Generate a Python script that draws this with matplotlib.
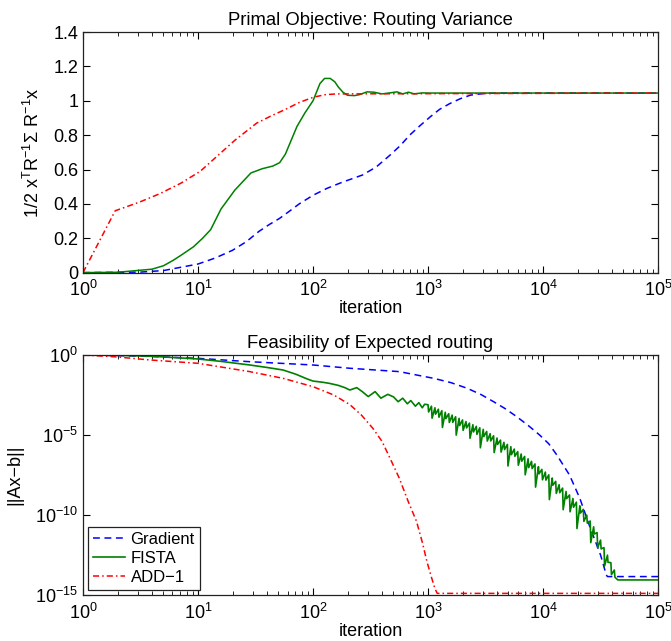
import numpy as np
import matplotlib
matplotlib.use("Agg")
import matplotlib.pyplot as plt
from matplotlib.ticker import LogLocator, NullFormatter, NullLocator, FixedLocator

plt.rcParams['font.family'] = ['Liberation Sans', 'DejaVu Sans']
plt.rcParams['mathtext.fontset'] = 'custom'
plt.rcParams['mathtext.rm'] = 'Liberation Sans'
plt.rcParams['mathtext.it'] = 'Liberation Sans:italic'
plt.rcParams['mathtext.bf'] = 'Liberation Sans:bold'
plt.rcParams['font.size'] = 13

# ---------------- Data (x given as log10(iteration)) ----------------
# Top: primal objective
grad_obj_lx = [0, 0.5, 0.7, 1.0, 1.15, 1.3, 1.42, 1.53, 1.62, 1.71, 1.8, 1.88, 2.0, 2.12,
               2.25, 2.43, 2.55, 2.67, 2.76, 2.84, 2.93, 3.02, 3.1, 3.19, 3.28, 3.37, 3.48, 3.6, 5.0]
grad_obj = [0, 0.003, 0.012, 0.05, 0.085, 0.13, 0.18, 0.24, 0.28, 0.316, 0.36, 0.40, 0.45, 0.49,
            0.525, 0.568, 0.615, 0.684, 0.74, 0.80, 0.855, 0.907, 0.95, 0.984, 1.012, 1.033, 1.042, 1.045, 1.045]

fista_obj_lx = [0, 0.3, 0.6, 0.7, 0.78, 0.85, 0.96, 1.04, 1.11, 1.2, 1.32, 1.46, 1.56, 1.65, 1.71,
                1.76, 1.86, 1.93, 2.0, 2.06, 2.1, 2.15, 2.19, 2.22, 2.26, 2.3, 2.36, 2.4, 2.47,
                2.53, 2.6, 2.68, 2.73, 2.78, 2.83, 2.88, 2.95, 3.0, 5.0]
fista_obj = [0, 0.002, 0.02, 0.04, 0.07, 0.1, 0.15, 0.2, 0.25, 0.37, 0.48, 0.58, 0.605, 0.62, 0.64,
             0.69, 0.85, 0.93, 1.0, 1.1, 1.13, 1.13, 1.11, 1.08, 1.05, 1.032, 1.03, 1.035, 1.052,
             1.05, 1.04, 1.047, 1.052, 1.04, 1.05, 1.04, 1.046, 1.045, 1.045]

add_obj_lx = [0, 0.28, 0.49, 0.67, 0.85, 1.02, 1.17, 1.32, 1.51, 1.63, 1.76, 1.88, 2.0, 2.1, 2.2, 5.0]
add_obj = [0, 0.36, 0.41, 0.46, 0.52, 0.59, 0.68, 0.77, 0.87, 0.91, 0.95, 0.99, 1.02, 1.035, 1.04, 1.045]

# Bottom: feasibility residual (log10 ||Ax-b||)
grad_res_lx = [0, 0.5, 1.0, 1.45, 2.0, 2.32, 2.75, 3.05, 3.2, 3.34, 3.46, 3.57, 3.67, 3.77,
               3.87, 3.97, 4.05, 4.12, 4.23, 4.32, 4.41, 4.5, 4.55, 4.56, 5.0]
grad_res_log = [0, -0.07, -0.21, -0.42, -0.625, -0.83, -1.04, -1.46, -1.73, -2.08, -2.47, -2.92,
                -3.35, -3.85, -4.4, -5.0, -5.55, -6.25, -7.5, -8.96, -10.8, -12.5, -13.75, -13.85, -13.85]

fista_res_lx = [0, 0.3, 0.6, 1.0, 1.2, 1.45, 1.6, 1.74, 1.85, 1.95, 2.0, 2.08, 2.14, 2.22, 2.28,
                2.32, 2.38, 2.43, 2.48, 2.54, 2.59, 2.65, 2.70, 2.74, 2.78, 2.82, 2.85, 2.89,
                2.92, 2.95, 2.97,
                3.00, 3.005, 3.03, 3.035, 3.06, 3.065, 3.09, 3.095, 3.12, 3.125, 3.15, 3.155,
                3.18, 3.185, 3.21, 3.215, 3.24, 3.245, 3.27, 3.275, 3.30, 3.305, 3.33, 3.335,
                3.36, 3.365, 3.39, 3.395, 3.42, 3.425, 3.45, 3.455, 3.48, 3.485, 3.51, 3.515,
                3.54, 3.545, 3.57, 3.575, 3.60, 3.605, 3.63, 3.635, 3.66, 3.665, 3.69, 3.695,
                3.72, 3.725, 3.75, 3.755, 3.78, 3.785, 3.81, 3.815, 3.84, 3.845, 3.87, 3.875,
                3.90, 3.905, 3.93, 3.935, 3.96, 3.965, 3.99, 3.995, 4.02, 4.025, 4.05, 4.055,
                4.08, 4.085, 4.11, 4.115, 4.14, 4.145, 4.17, 4.175, 4.20, 4.205, 4.23, 4.235,
                4.26, 4.265, 4.29, 4.295, 4.32, 4.325, 4.35, 4.355, 4.38, 4.385, 4.41, 4.415,
                4.44, 4.445, 4.47, 4.475, 4.50, 4.505, 4.53, 4.535, 4.56, 4.565, 4.59, 4.595,
                4.62, 4.625, 4.65, 5.0]
fista_res_log = [0, -0.02, -0.08, -0.25, -0.4, -0.625, -0.78, -0.94, -1.2, -1.5, -1.63, -1.7,
                 -1.77, -1.9, -2.05, -2.19, -2.04, -2.3, -2.6, -2.29, -2.7, -2.46, -2.62, -2.92,
                 -2.7, -3.05, -2.85, -3.2, -2.98, -3.3, -3.08,
                 -3.11, -3.56, -3.20, -3.95, -3.30, -3.70, -3.39, -3.89, -3.48, -4.53, -3.58, -3.98,
                 -3.67, -4.22, -3.76, -4.21, -3.86, -5.01, -3.96, -4.41, -4.06, -4.71, -4.16, -4.56,
                 -4.26, -5.21, -4.36, -4.81, -4.46, -4.96, -4.55, -5.80, -4.65, -5.10, -4.78, -5.38,
                 -4.92, -5.37, -5.05, -6.10, -5.19, -5.59, -5.32, -6.07, -5.46, -5.91, -5.59, -6.94,
                 -5.73, -6.23, -5.88, -6.33, -6.04, -6.89, -6.19, -6.64, -6.34, -7.49, -6.49, -7.04,
                 -6.65, -7.10, -6.81, -8.26, -6.98, -7.43, -7.15, -7.80, -7.32, -7.82, -7.49, -9.04,
                 -7.69, -8.14, -7.90, -8.65, -8.11, -8.61, -8.32, -9.67, -8.53, -8.98, -8.75, -9.80,
                 -8.97, -9.52, -9.20, -10.85, -9.43, -9.88, -9.65, -10.40, -10.01, -10.51, -10.38, -11.73,
                 -10.74, -11.19, -11.10, -12.05, -11.57, -12.12, -12.04, -13.19, -12.51, -12.96, -12.98, -13.73,
                 -13.44, -13.89, -14.06, -14.06]

add_res_lx = [0, 0.29, 0.58, 1.0, 1.45, 1.74, 2.0, 2.18, 2.32, 2.42, 2.52, 2.6, 2.67, 2.75,
              2.83, 2.9, 2.95, 2.99, 3.03, 3.06, 3.08, 5.0]
add_res_log = [0, -0.12, -0.31, -0.52, -1.04, -1.46, -1.98, -2.5, -3.1, -3.75, -4.58, -5.4,
               -6.46, -7.7, -9.2, -10.4, -11.7, -12.9, -13.9, -14.6, -14.9, -14.9]

labels = ['Gradient', 'FISTA', 'ADD\u22121']
colors = ['#0000ff', '#008000', '#ff0000']
dash_patterns = [(4.5, 3.0), None, (4.0, 2.0, 1.0, 2.0)]
widths = [1.1, 1.2, 1.1]


def it(lx):
    return np.power(10.0, np.asarray(lx, dtype=float))


def styled_plot(ax, x, y, c, dp, lw, lab):
    if dp is None:
        ax.plot(x, y, color=c, ls='-', lw=lw, label=lab)
    else:
        ax.plot(x, y, color=c, ls=(0, dp), lw=lw, label=lab)


fig = plt.figure(figsize=(6.71, 6.41), dpi=100)
ax1 = fig.add_axes([0.1237, 0.5747, 0.857, 0.3753])
ax2 = fig.add_axes([0.1237, 0.0718, 0.857, 0.3744])

top_series = [(grad_obj_lx, grad_obj), (fista_obj_lx, fista_obj), (add_obj_lx, add_obj)]
for (lx, y), c, dp, lw, lab in zip(top_series, colors, dash_patterns, widths, labels):
    styled_plot(ax1, it(lx), y, c, dp, 1.1, lab)

bot_series = [(grad_res_lx, grad_res_log), (fista_res_lx, fista_res_log), (add_res_lx, add_res_log)]
for (lx, ly), c, dp, lw, lab in zip(bot_series, colors, dash_patterns, widths, labels):
    styled_plot(ax2, it(lx), np.power(10.0, np.asarray(ly)), c, dp, lw, lab)

for ax in (ax1, ax2):
    ax.set_xscale('log')
    ax.set_xlim(1, 1e5)
    ax.xaxis.set_major_locator(LogLocator(base=10, numticks=10))
    ax.xaxis.set_minor_locator(LogLocator(base=10, subs=np.arange(2, 10), numticks=20))
    ax.xaxis.set_minor_formatter(NullFormatter())
    ax.tick_params(which='both', direction='in', top=True, right=True, labelsize=13)
    ax.tick_params(axis='x', which='major', pad=5.5)
    ax.tick_params(axis='y', which='major', pad=3.5)
    ax.tick_params(which='major', length=5)
    ax.tick_params(which='minor', length=3)
    ax.set_xlabel('iteration', fontsize=13, labelpad=0)
    for sp in ax.spines.values():
        sp.set_linewidth(0.9)
        sp.set_color('#222222')

ax1.set_ylim(0, 1.4)
ax1.set_yticks([0, 0.2, 0.4, 0.6, 0.8, 1.0, 1.2, 1.4])
ax1.set_yticklabels(['0', '0.2', '0.4', '0.6', '0.8', '1', '1.2', '1.4'])
ax1.set_title('Primal Objective: Routing Variance', fontsize=13.3, pad=5)
ax1.set_ylabel(r'1/2 x$^{\mathrm{T}}$R$^{-1}$Σ R$^{-1}$x', fontsize=13)
ax1.yaxis.set_label_coords(-0.07, 0.5)

ax2.set_yscale('log')
ax2.set_ylim(1e-15, 1)
ax2.yaxis.set_major_locator(FixedLocator([1e-15, 1e-10, 1e-5, 1]))
ax2.yaxis.set_minor_locator(NullLocator())
ax2.set_title('Feasibility of Expected routing', fontsize=13.3, pad=5)
ax2.set_ylabel('||Ax\u2212b||', fontsize=13)
ax2.yaxis.set_label_coords(-0.104, 0.5)

leg = ax2.legend(loc='lower left', fancybox=False, edgecolor='#222222', framealpha=1,
                 handlelength=1.9, fontsize=12, borderaxespad=0.3, labelspacing=0.25,
                 handletextpad=0.35, borderpad=0.3)
leg.get_frame().set_linewidth(0.9)

fig.savefig('out.png', dpi=100)
